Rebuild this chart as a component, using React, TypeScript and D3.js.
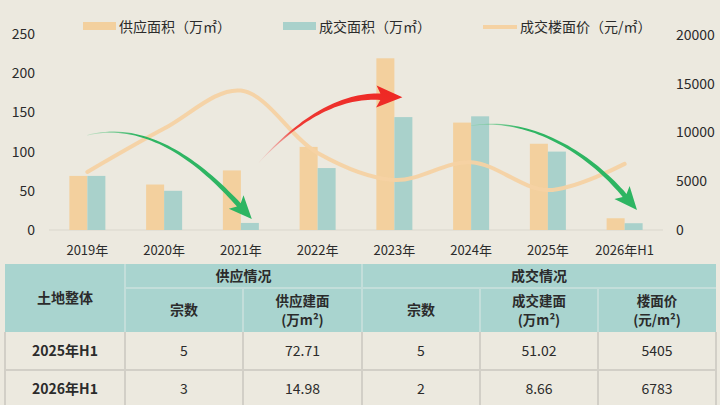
import React from 'react'
import * as d3 from 'd3'

// chart data
const years = ['2019年', '2020年', '2021年', '2022年', '2023年', '2024年', '2025年', '2026年H1']
const supplyArea = [69, 58, 76, 106, 219, 137, 110, 14.98]
const dealArea = [69, 50, 9, 79, 144, 145, 100, 8.66]
const dealPrice = [5950, 10400, 14300, 7900, 5130, 6950, 4100, 6783]
const leftTicks = [0, 50, 100, 150, 200, 250]
const rightTicks = [0, 5000, 10000, 15000, 20000]

// table data
const tableRowNames = ['2025年H1', '2026年H1']
const tableSupplyCount = ['5', '3']
const tableSupplyArea = ['72.71', '14.98']
const tableDealCount = ['5', '2']
const tableDealArea = ['51.02', '8.66']
const tableDealPrice = ['5405', '6783']

const BG = '#ECE9DF'
const SUPPLY = '#F3D09E'
const DEAL = '#A9D1CB'
const LINE = '#F5D2A3'
const HEAD = '#A9D4CF'
const FONT = '"Noto Sans CJK SC", "Noto Sans", sans-serif'

type P = [number, number]

function arrowPath(p0: P, p1: P, p2: P, p3: P, w0: number, w1: number, headLen: number, headW: number) {
    const n = 40
    const pts: P[] = []
    for (let i = 0; i <= n; i++) {
        const t = i / n, u = 1 - t
        pts.push([
            u * u * u * p0[0] + 3 * u * u * t * p1[0] + 3 * u * t * t * p2[0] + t * t * t * p3[0],
            u * u * u * p0[1] + 3 * u * u * t * p1[1] + 3 * u * t * t * p2[1] + t * t * t * p3[1],
        ])
    }
    const left: P[] = [], right: P[] = []
    pts.forEach((p, i) => {
        const a = pts[Math.max(0, i - 1)], b = pts[Math.min(n, i + 1)]
        let dx = b[0] - a[0], dy = b[1] - a[1]
        const l = Math.hypot(dx, dy) || 1
        dx /= l; dy /= l
        const w = (w0 + (w1 - w0) * (i / n)) / 2
        left.push([p[0] - dy * w, p[1] + dx * w])
        right.push([p[0] + dy * w, p[1] - dx * w])
    })
    const e = pts[n], q = pts[n - 1]
    let tx = e[0] - q[0], ty = e[1] - q[1]
    const tl = Math.hypot(tx, ty)
    tx /= tl; ty /= tl
    const nx = -ty, ny = tx
    const back = 4
    const tip: P = [e[0] + tx * headLen, e[1] + ty * headLen]
    const hl: P = [e[0] - tx * back + nx * headW, e[1] - ty * back + ny * headW]
    const hr: P = [e[0] - tx * back - nx * headW, e[1] - ty * back - ny * headW]
    const body = [...left, hl, tip, hr, ...right.reverse()]
    return 'M' + body.map(p => p[0].toFixed(1) + ',' + p[1].toFixed(1)).join('L') + 'Z'
}

export default function App() {
    const width = 720, height = 405
    const x = d3.scaleBand<string>().domain(years).range([49, 663])
    const xc = (d: string) => (x(d) ?? 0) + x.bandwidth() / 2
    const yL = d3.scaleLinear().domain([0, 250]).range([230, 34])
    const yR = d3.scaleLinear().domain([0, 20000]).range([230, 35])
    const barW = 18

    const line = d3.line<number>()
        .x((_, i) => xc(years[i]))
        .y(d => yR(d))
        .curve(d3.curveCatmullRom.alpha(0.5))

    // annotation arrows, anchored on the scales
    const g1 = arrowPath(
        [xc(years[0]), yL(121)], [xc(years[0]) + 60, yL(140)],
        [xc(years[2]) - 40, yL(85)], [xc(years[2]) - 2, yL(32)], 0.5, 5, 19, 10)
    const red = arrowPath(
        [xc(years[2]) + 18, yL(86)], [xc(years[3]) - 20, yL(140)],
        [xc(years[3]) + 20, yL(172)], [xc(years[4]) - 14, yL(170)], 0.3, 6.5, 22, 11)
    const g2 = arrowPath(
        [xc(years[5]), yL(133)], [xc(years[6]) - 20, yL(145)],
        [xc(years[6]) + 40, yL(100)], [xc(years[7]), yL(44)], 0.5, 5, 19, 10)

    // table layout
    const cols = [5, 125, 243, 362, 480, 598, 716]
    const rowsY = [264, 288, 332, 370, 408]
    const cc = (i: number) => (cols[i] + cols[i + 1]) / 2
    const bodyCols = [tableRowNames, tableSupplyCount, tableSupplyArea, tableDealCount, tableDealArea, tableDealPrice]
    const txt = { fontFamily: FONT, fill: '#2b2b2b' }

    return (
        <svg width={width} height={height} style={{ position: 'fixed', left: 0, top: 0, background: BG }}>
            <defs>
                <linearGradient id="redg" x1="0" y1="1" x2="1" y2="0">
                    <stop offset="0" stopColor="#f0a0a0" stopOpacity={0.2} />
                    <stop offset="0.35" stopColor="#ee3a34" />
                    <stop offset="1" stopColor="#ee2622" />
                </linearGradient>
                <linearGradient id="greeng" x1="0" y1="0" x2="1" y2="0">
                    <stop offset="0" stopColor="#7fcf9a" stopOpacity={0.4} />
                    <stop offset="0.3" stopColor="#2fb563" />
                    <stop offset="1" stopColor="#2db562" />
                </linearGradient>
            </defs>
            <rect width={width} height={height} fill={BG} />

            {/* legend */}
            <rect x={83} y={22} width={33} height={8} fill={SUPPLY} />
            <text x={119} y={32} fontSize={14} {...txt}>供应面积（万㎡）</text>
            <rect x={283} y={22} width={33} height={8} fill={DEAL} />
            <text x={319} y={32} fontSize={14} {...txt}>成交面积（万㎡）</text>
            <line x1={483} x2={517} y1={27} y2={27} stroke={LINE} strokeWidth={4} />
            <text x={520} y={32} fontSize={14} {...txt}>成交楼面价（元/㎡）</text>

            {/* axes */}
            <line x1={49} x2={663} y1={yL(0)} y2={yL(0)} stroke="#DAD7CD" strokeWidth={1} />
            {leftTicks.map(t => (
                <text key={t} x={35} y={yL(t)} dy="0.35em" textAnchor="end" fontSize={14} {...txt}>{t}</text>
            ))}
            {rightTicks.map(t => (
                <text key={t} x={676} y={yR(t)} dy="0.35em" fontSize={14} {...txt}>{t}</text>
            ))}
            {years.map(y => (
                <text key={y} x={xc(y)} y={250} dy="0.35em" textAnchor="middle" fontSize={13} {...txt}>{y}</text>
            ))}

            {/* bars */}
            {years.map((y, i) => (
                <g key={y}>
                    <rect x={xc(y) - barW} y={yL(supplyArea[i])} width={barW} height={yL(0) - yL(supplyArea[i])} fill={SUPPLY} />
                    <rect x={xc(y)} y={yL(dealArea[i])} width={barW} height={yL(0) - yL(dealArea[i])} fill={DEAL} />
                </g>
            ))}

            {/* price line */}
            <path d={line(dealPrice) ?? ''} fill="none" stroke={LINE} strokeWidth={4} strokeLinecap="round" opacity={0.95} />

            {/* arrows */}
            <path d={g1} fill="url(#greeng)" />
            <path d={red} fill="url(#redg)" />
            <path d={g2} fill="url(#greeng)" />

            {/* table */}
            <rect x={cols[0]} y={rowsY[0]} width={cols[6] - cols[0]} height={rowsY[2] - rowsY[0]} fill={HEAD} />
            <g stroke="#C3DEDA" strokeWidth={2}>
                <line x1={cols[1]} x2={cols[6]} y1={rowsY[1]} y2={rowsY[1]} />
                <line x1={cols[1]} x2={cols[1]} y1={rowsY[0]} y2={rowsY[2]} />
                <line x1={cols[3]} x2={cols[3]} y1={rowsY[0]} y2={rowsY[2]} />
                {[2, 4, 5].map(i => <line key={i} x1={cols[i]} x2={cols[i]} y1={rowsY[1]} y2={rowsY[2]} />)}
            </g>
            <g stroke="#D2CFC7" strokeWidth={2}>
                <line x1={cols[0]} x2={cols[6]} y1={rowsY[3]} y2={rowsY[3]} />
                {cols.map((c, i) => <line key={i} x1={c} x2={c} y1={rowsY[2]} y2={rowsY[4]} />)}
            </g>
            <g fontWeight="bold" fontSize={14} textAnchor="middle" {...txt}>
                <text x={cc(0)} y={(rowsY[0] + rowsY[2]) / 2} dy="0.35em">土地整体</text>
                <text x={(cols[1] + cols[3]) / 2} y={(rowsY[0] + rowsY[1]) / 2} dy="0.35em">供应情况</text>
                <text x={(cols[3] + cols[6]) / 2} y={(rowsY[0] + rowsY[1]) / 2} dy="0.35em">成交情况</text>
                <text x={cc(1)} y={(rowsY[1] + rowsY[2]) / 2} dy="0.35em">宗数</text>
                <text x={cc(3)} y={(rowsY[1] + rowsY[2]) / 2} dy="0.35em">宗数</text>
            </g>
            <g fontWeight="bold" fontSize={13.5} textAnchor="middle" {...txt}>
                <text x={cc(2)} y={301} dy="0.35em">供应建面</text>
                <text x={cc(2)} y={320} dy="0.35em">(万m²)</text>
                <text x={cc(4)} y={301} dy="0.35em">成交建面</text>
                <text x={cc(4)} y={320} dy="0.35em">(万m²)</text>
                <text x={cc(5)} y={301} dy="0.35em">楼面价</text>
                <text x={cc(5)} y={320} dy="0.35em">(元/m²)</text>
            </g>
            {bodyCols.map((col, ci) => col.map((v, ri) => (
                <text key={ci + '-' + ri} x={cc(ci)} y={(rowsY[2 + ri] + rowsY[3 + ri]) / 2} dy="0.35em"
                    textAnchor="middle" fontSize={14} fontWeight={ci === 0 ? 'bold' : 'normal'} {...txt}>{v}</text>
            )))}
        </svg>
    )
}
